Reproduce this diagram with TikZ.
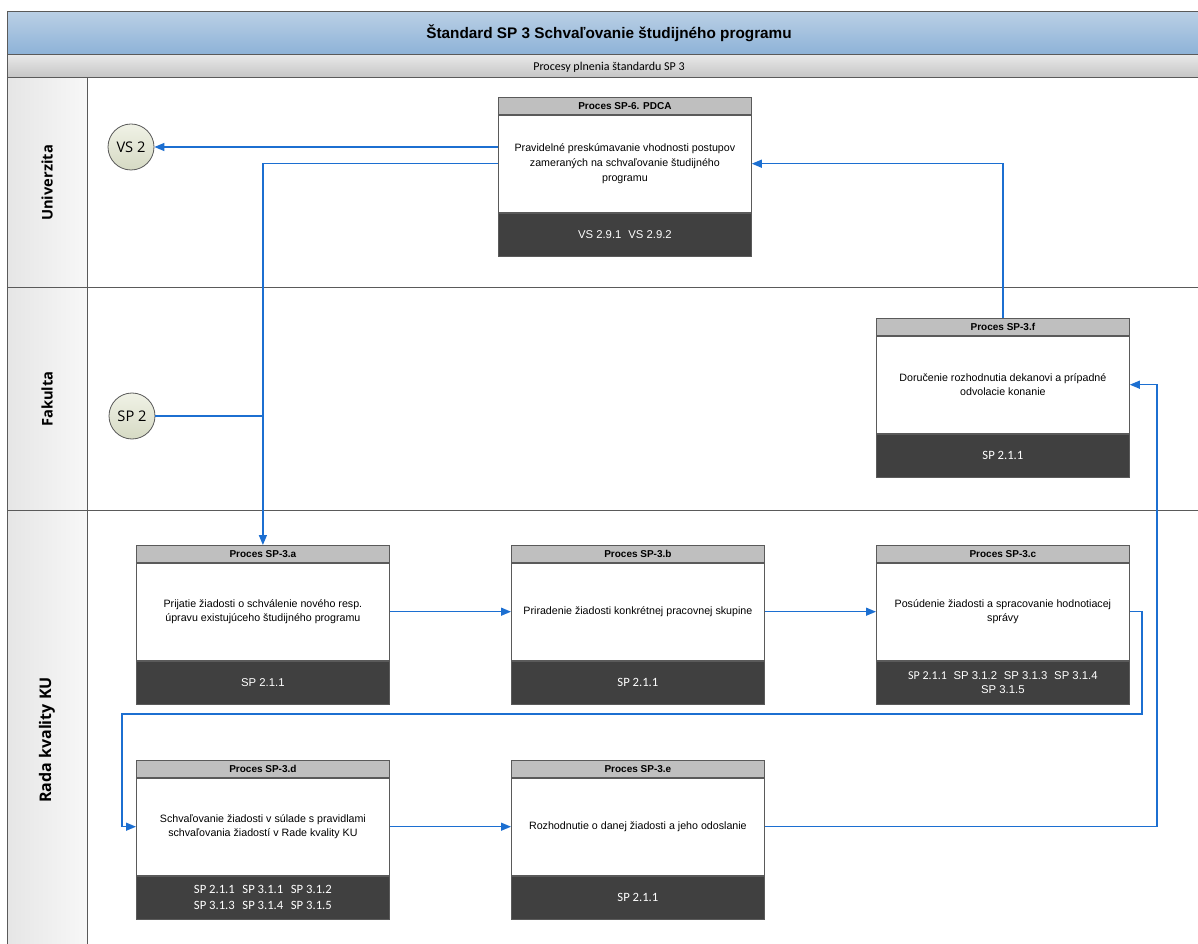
\documentclass[tikz,border=0pt]{standalone}
\usepackage{fontspec}
\setmainfont{Liberation Sans}
\newfontfamily\carl{Carlito}
\newfontfamily\osans{Open Sans}
\usetikzlibrary{arrows.meta,calc}
\definecolor{titletop}{HTML}{B9CFE5}
\definecolor{titlebot}{HTML}{8DB2D7}
\definecolor{subtop}{HTML}{E8E8E8}
\definecolor{subbot}{HTML}{C4C4C4}
\definecolor{hdrgray}{HTML}{BFBFBF}
\definecolor{footdark}{HTML}{404040}
\definecolor{connblue}{HTML}{1C6FD1}
\definecolor{framegray}{HTML}{5A5A5A}
\definecolor{circtop}{HTML}{F0F2E6}
\definecolor{circbot}{HTML}{D6DAC4}
\begin{document}
\begin{tikzpicture}[x=0.75pt,y=-0.75pt,
  hdr/.style={draw=framegray,line width=0.6pt,fill=hdrgray,minimum width=189.75pt,minimum height=12.75pt,
    inner sep=0pt,anchor=north west,font=\bfseries\fontsize{7.5}{9}\selectfont},
  body/.style={draw=framegray,line width=0.6pt,fill=white,minimum width=189.75pt,minimum height=72.75pt,
    inner sep=0pt,anchor=north,align=center,font=\fontsize{8}{11}\selectfont},
  foot/.style={draw=framegray,line width=0.6pt,fill=footdark,minimum width=189.75pt,minimum height=32.25pt,
    inner sep=0pt,anchor=north,align=center,text=white,font=\fontsize{8.5}{11}\selectfont},
  cfoot/.style={foot,font=\carl\fontsize{9.5}{11.5}\selectfont},
  term/.style={circle,draw=framegray,line width=0.6pt,top color=circtop,bottom color=circbot,
    minimum size=34.5pt,inner sep=0pt,font=\osans\fontsize{11}{12}\selectfont},
  lanelbl/.style={rotate=90,font=\osans\bfseries\fontsize{11}{13}\selectfont},
  conn/.style={draw=connblue,line width=1pt,-{Triangle[length=7.5pt,width=6pt]}},
  connplain/.style={draw=connblue,line width=1pt},
  frame/.style={draw=framegray,line width=0.75pt}]
\useasboundingbox (0,0) rectangle (1198,944);
\fill[white] (0,0) rectangle (1198,944);
\begin{scope}
\clip (0,0) rectangle (1198,944);
% title band
\shade[top color=titletop,bottom color=titlebot] (7,12) rectangle (1205,55);
\draw[frame] (7,12) rectangle (1205,55);
\shade[top color=subtop,bottom color=subbot] (7,55) rectangle (1205,78);
\draw[frame] (7,55) rectangle (1205,78);
% lane label column
\shade[left color=black!10,right color=black!3] (7,78) rectangle (87,960);
\draw[frame] (7,78) rectangle (1205,288);
\draw[frame] (7,288) rectangle (1205,510);
\draw[frame] (7,510) rectangle (1205,960);
\draw[frame] (87,78) -- (87,960);
\end{scope}
\node[font=\bfseries\fontsize{11.5}{13}\selectfont] (title) at (609,33) {Štandard SP 3 Schvaľovanie študijného programu};
\node[font=\carl\fontsize{9}{11}\selectfont] (subtitle) at (609,67) {Procesy plnenia štandardu SP 3};
\node[lanelbl] (lu) at (47,183) {Univerzita};
\node[lanelbl] (lf) at (47,399) {Fakulta};
\node[lanelbl,font=\osans\bfseries\fontsize{12}{14}\selectfont] (lr) at (47,740) {Rada kvality KU};
% terminators
\node[term] (vs2) at (131,147) {VS 2};
\node[term] (sp2) at (132,416) {SP 2};
% PDCA
\node[hdr] (pdcah) at (498,97) {Proces SP-6. PDCA};
\node[body] (pdca) at (pdcah.south) {Pravidelné preskúmavanie vhodnosti postupov\\zameraných na schvaľovanie študijného\\programu};
\node[foot] (pdcaf) at (pdca.south) {VS 2.9.1\hspace{0.6em}VS 2.9.2};
% f
\node[hdr] (fh) at (876,318) {Proces SP-3.f};
\node[body] (fb) at (fh.south) {Doručenie rozhodnutia dekanovi a prípadné\\odvolacie konanie};
\node[cfoot] (ff) at (fb.south) {SP 2.1.1};
% a
\node[hdr] (ah) at (136,545) {Proces SP-3.a};
\node[body] (ab) at (ah.south) {Prijatie žiadosti o schválenie nového resp.\\úpravu existujúceho študijného programu};
\node[foot] (af) at (ab.south) {SP 2.1.1};
% b
\node[hdr] (bh) at (511,545) {Proces SP-3.b};
\node[body] (bb) at (bh.south) {Priradenie žiadosti konkrétnej pracovnej skupine};
\node[cfoot] (bf) at (bb.south) {SP 2.1.1};
% c
\node[hdr] (ch) at (876,545) {Proces SP-3.c};
\node[body] (cb) at (ch.south) {Posúdenie žiadosti a spracovanie hodnotiacej\\správy};
\node[foot] (cf) at (cb.south) {{\carl\fontsize{9}{11}\selectfont SP 2.1.1}\hspace{0.6em}SP 3.1.2\hspace{0.6em}SP 3.1.3\hspace{0.6em}SP 3.1.4\\SP 3.1.5};
% d
\node[hdr] (dh) at (136,760) {Proces SP-3.d};
\node[body] (db) at (dh.south) {Schvaľovanie žiadosti v súlade s pravidlami\\schvaľovania žiadostí v Rade kvality KU};
\node[cfoot] (df) at (db.south) {SP 2.1.1\hspace{0.6em}SP 3.1.1\hspace{0.6em}SP 3.1.2\\SP 3.1.3\hspace{0.6em}SP 3.1.4\hspace{0.6em}SP 3.1.5};
% e
\node[hdr] (eh) at (511,760) {Proces SP-3.e};
\node[body] (eb) at (eh.south) {Rozhodnutie o danej žiadosti a jeho odoslanie};
\node[cfoot] (ef) at (eb.south) {SP 2.1.1};
% helper coordinates
\coordinate (k1) at (1142,714);
\coordinate (k2) at (122,714);
\coordinate (k3) at (1157,600);
% connectors
\draw[conn] (vs2.east -| pdca.west) -- (vs2.east);
\draw[conn] (pdca.west) -| (ah.north);
\draw[connplain] (sp2.east) -- (sp2.east -| ah.north);
\draw[conn] (fh.north) |- (pdca.east);
\draw[conn] (ab.east) -- (bb.west);
\draw[conn] (bb.east) -- (cb.west);
\draw[conn] (cb.east) -| (k1) -- (k2) |- (db.west);
\draw[conn] (db.east) -- (eb.west);
\draw[conn] (eb.east) -| (k3) |- (fb.east);
\end{tikzpicture}
\end{document}
